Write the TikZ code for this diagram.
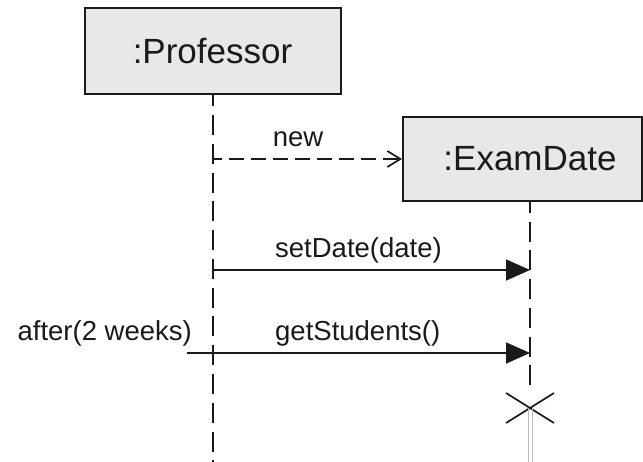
\documentclass[tikz,border=0pt]{standalone}
\usepackage{fontspec}
\setmainfont{Liberation Sans}
\usetikzlibrary{arrows.meta}
\definecolor{boxfill}{HTML}{E8E8E8}
\definecolor{ink}{HTML}{1A1A1A}
\definecolor{ghostgray}{HTML}{BBBBBB}
\begin{document}
\begin{tikzpicture}[x=1pt,y=-1pt,
  objbox/.style={draw=ink, fill=boxfill, line width=2pt, inner sep=0pt},
  objtext/.style={font=\fontsize{35}{40}\selectfont, inner sep=0pt, text=ink},
  lbl/.style={font=\fontsize{27.5}{32}\selectfont, inner sep=0pt, text=ink},
  lifeline/.style={draw=ink, line width=2pt, dash pattern=on 20pt off 8.75pt},
  syncmsg/.style={draw=ink, line width=1.7pt, -{Triangle[length=24pt,width=21pt]}},
  createmsg/.style={draw=ink, line width=1.7pt, dash pattern=on 15pt off 7pt, dash phase=6pt,
    -{Straight Barb[length=13pt,width=16pt,line width=1.7pt]}},
  destroy/.style={draw=ink, line width=1.7pt},
  ghost/.style={draw=ghostgray, line width=0.8pt}
]
\useasboundingbox (0,0) rectangle (643,462);

% objects
\node[objbox, minimum width=256pt, minimum height=86pt] (prof) at (212.5,51.5) {};
\node[objtext] (proftext) at (212.5,51.5) {:Professor};
\node[objbox, minimum width=239pt, minimum height=84pt] (exam) at (522.5,159) {};
\node[objtext] (examtext) at (530,159) {:ExamDate};

% lifeline coordinates
\coordinate (profend) at (212.5,462);
\coordinate (examtop) at (530,201);
\coordinate (examend) at (530,389);
\coordinate (xc) at (530,408);

% lifelines
\draw[lifeline, dash phase=9pt] (prof.south) -- (profend);
\draw[lifeline, dash phase=8pt] (examtop) -- (examend);

% create message
\coordinate (newstart) at (212.5,159);
\draw[createmsg] (newstart) -- (exam.west);
\node[lbl, anchor=base] (newlbl) at (298,147) {new};

% setDate
\coordinate (setstart) at (212.5,270);
\coordinate (setend) at (530,270);
\draw[syncmsg] (setstart) -- (setend);
\node[lbl, anchor=base west] (setlbl) at (275,258) {setDate(date)};

% getStudents
\coordinate (getstart) at (187,353);
\coordinate (getend) at (530,353);
\draw[syncmsg] (getstart) -- (getend);
\node[lbl, anchor=base west] (getlbl) at (275,341) {getStudents()};
\node[lbl, anchor=base east] (afterlbl) at (192,341) {after(2 weeks)};

% destruction
\draw[destroy] (xc) ++(-24,-15) -- ++(48,30);
\draw[destroy] (xc) ++(-24,15) -- ++(48,-30);
\draw[ghost] (xc) ++(-2,0) -- ++(0,54);
\draw[ghost] (xc) ++(2,0) -- ++(0,54);
\end{tikzpicture}
\end{document}
